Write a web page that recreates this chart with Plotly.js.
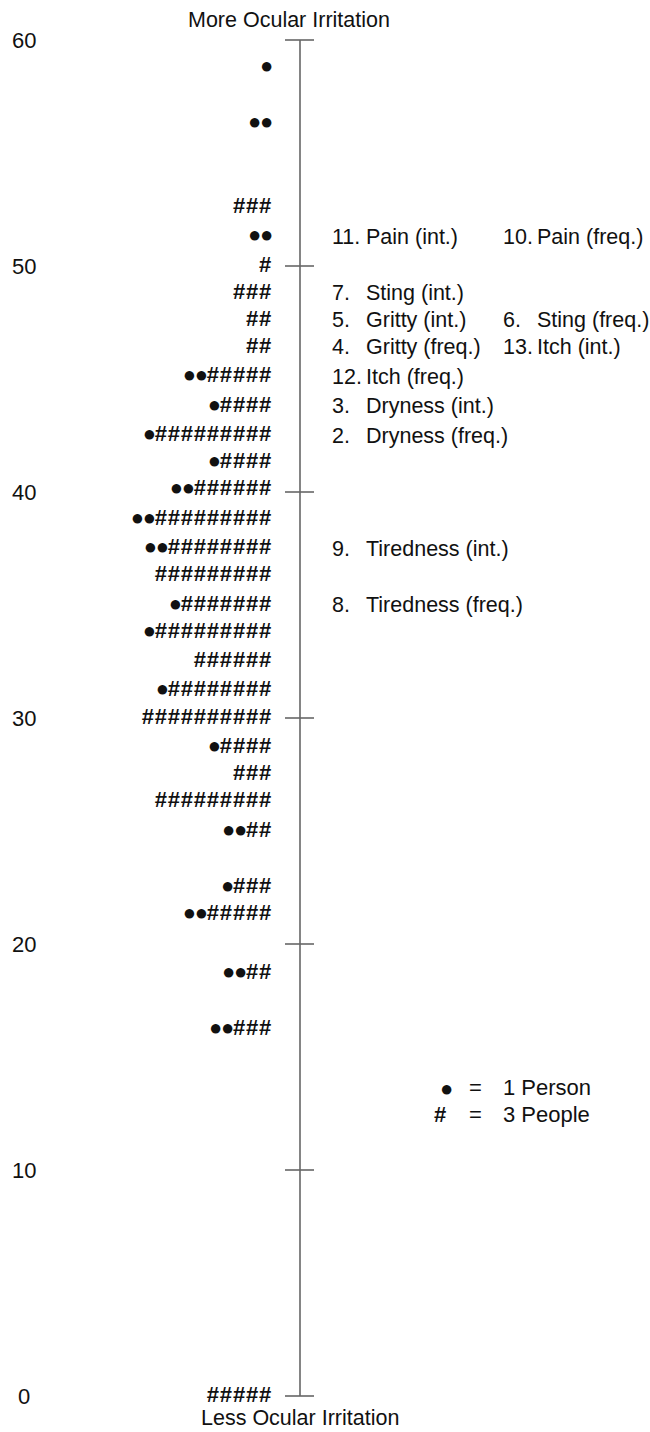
<!DOCTYPE html>
<html>
<head>
<meta charset="utf-8">
<script src="https://cdn.plot.ly/plotly-3.0.1.min.js"></script>
<style>
  html, body { margin: 0; padding: 0; background: #fff; }
  #chart { width: 650px; height: 1432px; }
</style>
</head>
<body>
<div id="chart"></div>
<script>
// ---- Data (person measures, Wright map) ----
const rowValues = [58.8, 56.3, 52.6, 51.3, 50.0, 48.8, 47.6, 46.4, 45.1, 43.8,
                   42.5, 41.3, 40.1, 38.8, 37.5, 36.3, 35.0, 33.8, 32.5, 31.2,
                   30.0, 28.7, 27.5, 26.3, 25.0, 22.5, 21.3, 18.7, 16.2, 0.0];
const rowDots   = [1, 2, 0, 2, 0, 0, 0, 0, 2, 1,
                   1, 1, 2, 2, 2, 0, 1, 1, 0, 1,
                   0, 1, 0, 0, 2, 1, 2, 2, 2, 0];
const rowHashes = [0, 0, 3, 0, 1, 3, 2, 2, 5, 4,
                   9, 4, 6, 9, 8, 9, 7, 9, 6, 8,
                   10, 4, 3, 9, 2, 3, 5, 2, 3, 5];

// ---- Items ----
const itemNums   = ['11.', '10.', '7.', '5.', '6.', '4.', '13.', '12.', '3.', '2.', '9.', '8.'];
const itemNames  = ['Pain (int.)', 'Pain (freq.)', 'Sting (int.)', 'Gritty (int.)', 'Sting (freq.)',
                    'Gritty (freq.)', 'Itch (int.)', 'Itch (freq.)', 'Dryness (int.)',
                    'Dryness (freq.)', 'Tiredness (int.)', 'Tiredness (freq.)'];
const itemValues = [51.3, 51.3, 48.8, 47.6, 47.6, 46.4, 46.4, 45.1, 43.8, 42.5, 37.5, 35.0];
const itemColumn = [0, 1, 0, 0, 1, 0, 1, 0, 0, 0, 0, 0];

// ---- Axis ----
const tickVals   = [0, 10, 20, 30, 40, 50, 60];
const tickLabels = ['0', '10', '20', '30', '40', '50', '60'];
const topLabel = 'More Ocular Irritation';
const bottomLabel = 'Less Ocular Irritation';
const legendSym = ['\u25CF', '#'];
const legendText = ['1 Person', '3 People'];

// ---- Layout constants ----
const W = 650, H = 1432;
const PX_PER_UNIT = 22.6, PX_ZERO = 1396;
const yTop = PX_ZERO / PX_PER_UNIT;
const yBot = -(H - PX_ZERO) / PX_PER_UNIT;
const AXIS_X = 300;
const FONT = 'Liberation Sans, Arial, Helvetica, sans-serif';
const INK = '#111111';
const DOT_STYLE = 'font-size:22px;letter-spacing:-1.3px';
const HASH_STYLE = 'font-weight:bold;letter-spacing:0.8px';
const LABEL_SIZE = 21.5;

function rowText(d, h) {
  let s = '';
  if (d > 0) s += '<span style="' + DOT_STYLE + '">' + '\u25CF'.repeat(d) + '</span>';
  if (h > 0) s += '<span style="' + HASH_STYLE + '">' + '#'.repeat(h) + '</span>';
  return s;
}

const marksTrace = {
  type: 'scatter',
  mode: 'text',
  x: rowValues.map(() => 272),
  y: rowValues,
  text: rowValues.map((v, i) => rowText(rowDots[i], rowHashes[i])),
  textposition: 'middle left',
  textfont: { family: FONT, size: 22, color: INK },
  hoverinfo: 'skip',
  showlegend: false,
  cliponaxis: false
};

const shapes = [{
  type: 'line', xref: 'x', yref: 'y',
  x0: AXIS_X, x1: AXIS_X, y0: tickVals[0], y1: tickVals[tickVals.length - 1],
  line: { color: '#666666', width: 1.6 }
}];
tickVals.forEach(v => shapes.push({
  type: 'line', xref: 'x', yref: 'y',
  x0: AXIS_X - 15, x1: AXIS_X + 14, y0: v, y1: v,
  line: { color: '#666666', width: 1.6 }
}));

const annotations = [];
tickVals.forEach((v, i) => annotations.push({
  xref: 'x', yref: 'y', x: 24, y: v, text: tickLabels[i],
  xanchor: 'center', yanchor: 'middle', showarrow: false,
  font: { family: FONT, size: 22, color: INK }
}));
const colNumX = [330, 501], colNameX = [364, 535];
itemNames.forEach((name, i) => {
  annotations.push({
    xref: 'x', yref: 'y', x: colNumX[itemColumn[i]], y: itemValues[i], text: itemNums[i],
    xanchor: 'left', yanchor: 'middle', showarrow: false,
    font: { family: FONT, size: LABEL_SIZE, color: INK }
  });
  annotations.push({
    xref: 'x', yref: 'y', x: colNameX[itemColumn[i]], y: itemValues[i], text: name,
    xanchor: 'left', yanchor: 'middle', showarrow: false,
    font: { family: FONT, size: LABEL_SIZE, color: INK }
  });
});
annotations.push({
  xref: 'x', yref: 'paper', x: 289, y: 1 - 20 / H, text: topLabel,
  xanchor: 'center', yanchor: 'middle', showarrow: false,
  font: { family: FONT, size: LABEL_SIZE, color: INK }
});
annotations.push({
  xref: 'x', yref: 'paper', x: 300, y: 1 - 1418 / H, text: bottomLabel,
  xanchor: 'center', yanchor: 'middle', showarrow: false,
  font: { family: FONT, size: LABEL_SIZE, color: INK }
});
// legend block
const legY = [1087, 1114];
legendSym.forEach((s, i) => {
  annotations.push({
    xref: 'x', yref: 'paper', x: i === 0 ? 446 : 440, y: 1 - (legY[i] + (i === 0 ? 1 : 0)) / H,
    text: i === 0 ? '<span style="font-size:22px">' + s + '</span>' : '<b>' + s + '</b>',
    xanchor: 'center', yanchor: 'middle', showarrow: false,
    font: { family: FONT, size: 22, color: INK }
  });
  annotations.push({
    xref: 'x', yref: 'paper', x: 475, y: 1 - legY[i] / H, text: '=',
    xanchor: 'center', yanchor: 'middle', showarrow: false,
    font: { family: FONT, size: 22, color: INK }
  });
  annotations.push({
    xref: 'x', yref: 'paper', x: 501, y: 1 - legY[i] / H, text: legendText[i],
    xanchor: 'left', yanchor: 'middle', showarrow: false,
    font: { family: FONT, size: 22, color: INK }
  });
});

const layout = {
  width: W, height: H,
  margin: { l: 0, r: 0, t: 0, b: 0, pad: 0 },
  paper_bgcolor: '#ffffff', plot_bgcolor: '#ffffff',
  xaxis: { range: [0, W], visible: false, fixedrange: true },
  yaxis: { range: [yBot, yTop], visible: false, fixedrange: true },
  shapes: shapes,
  annotations: annotations,
  showlegend: false
};

Plotly.newPlot('chart', [marksTrace], layout, { displayModeBar: false, staticPlot: true });
</script>
</body>
</html>
